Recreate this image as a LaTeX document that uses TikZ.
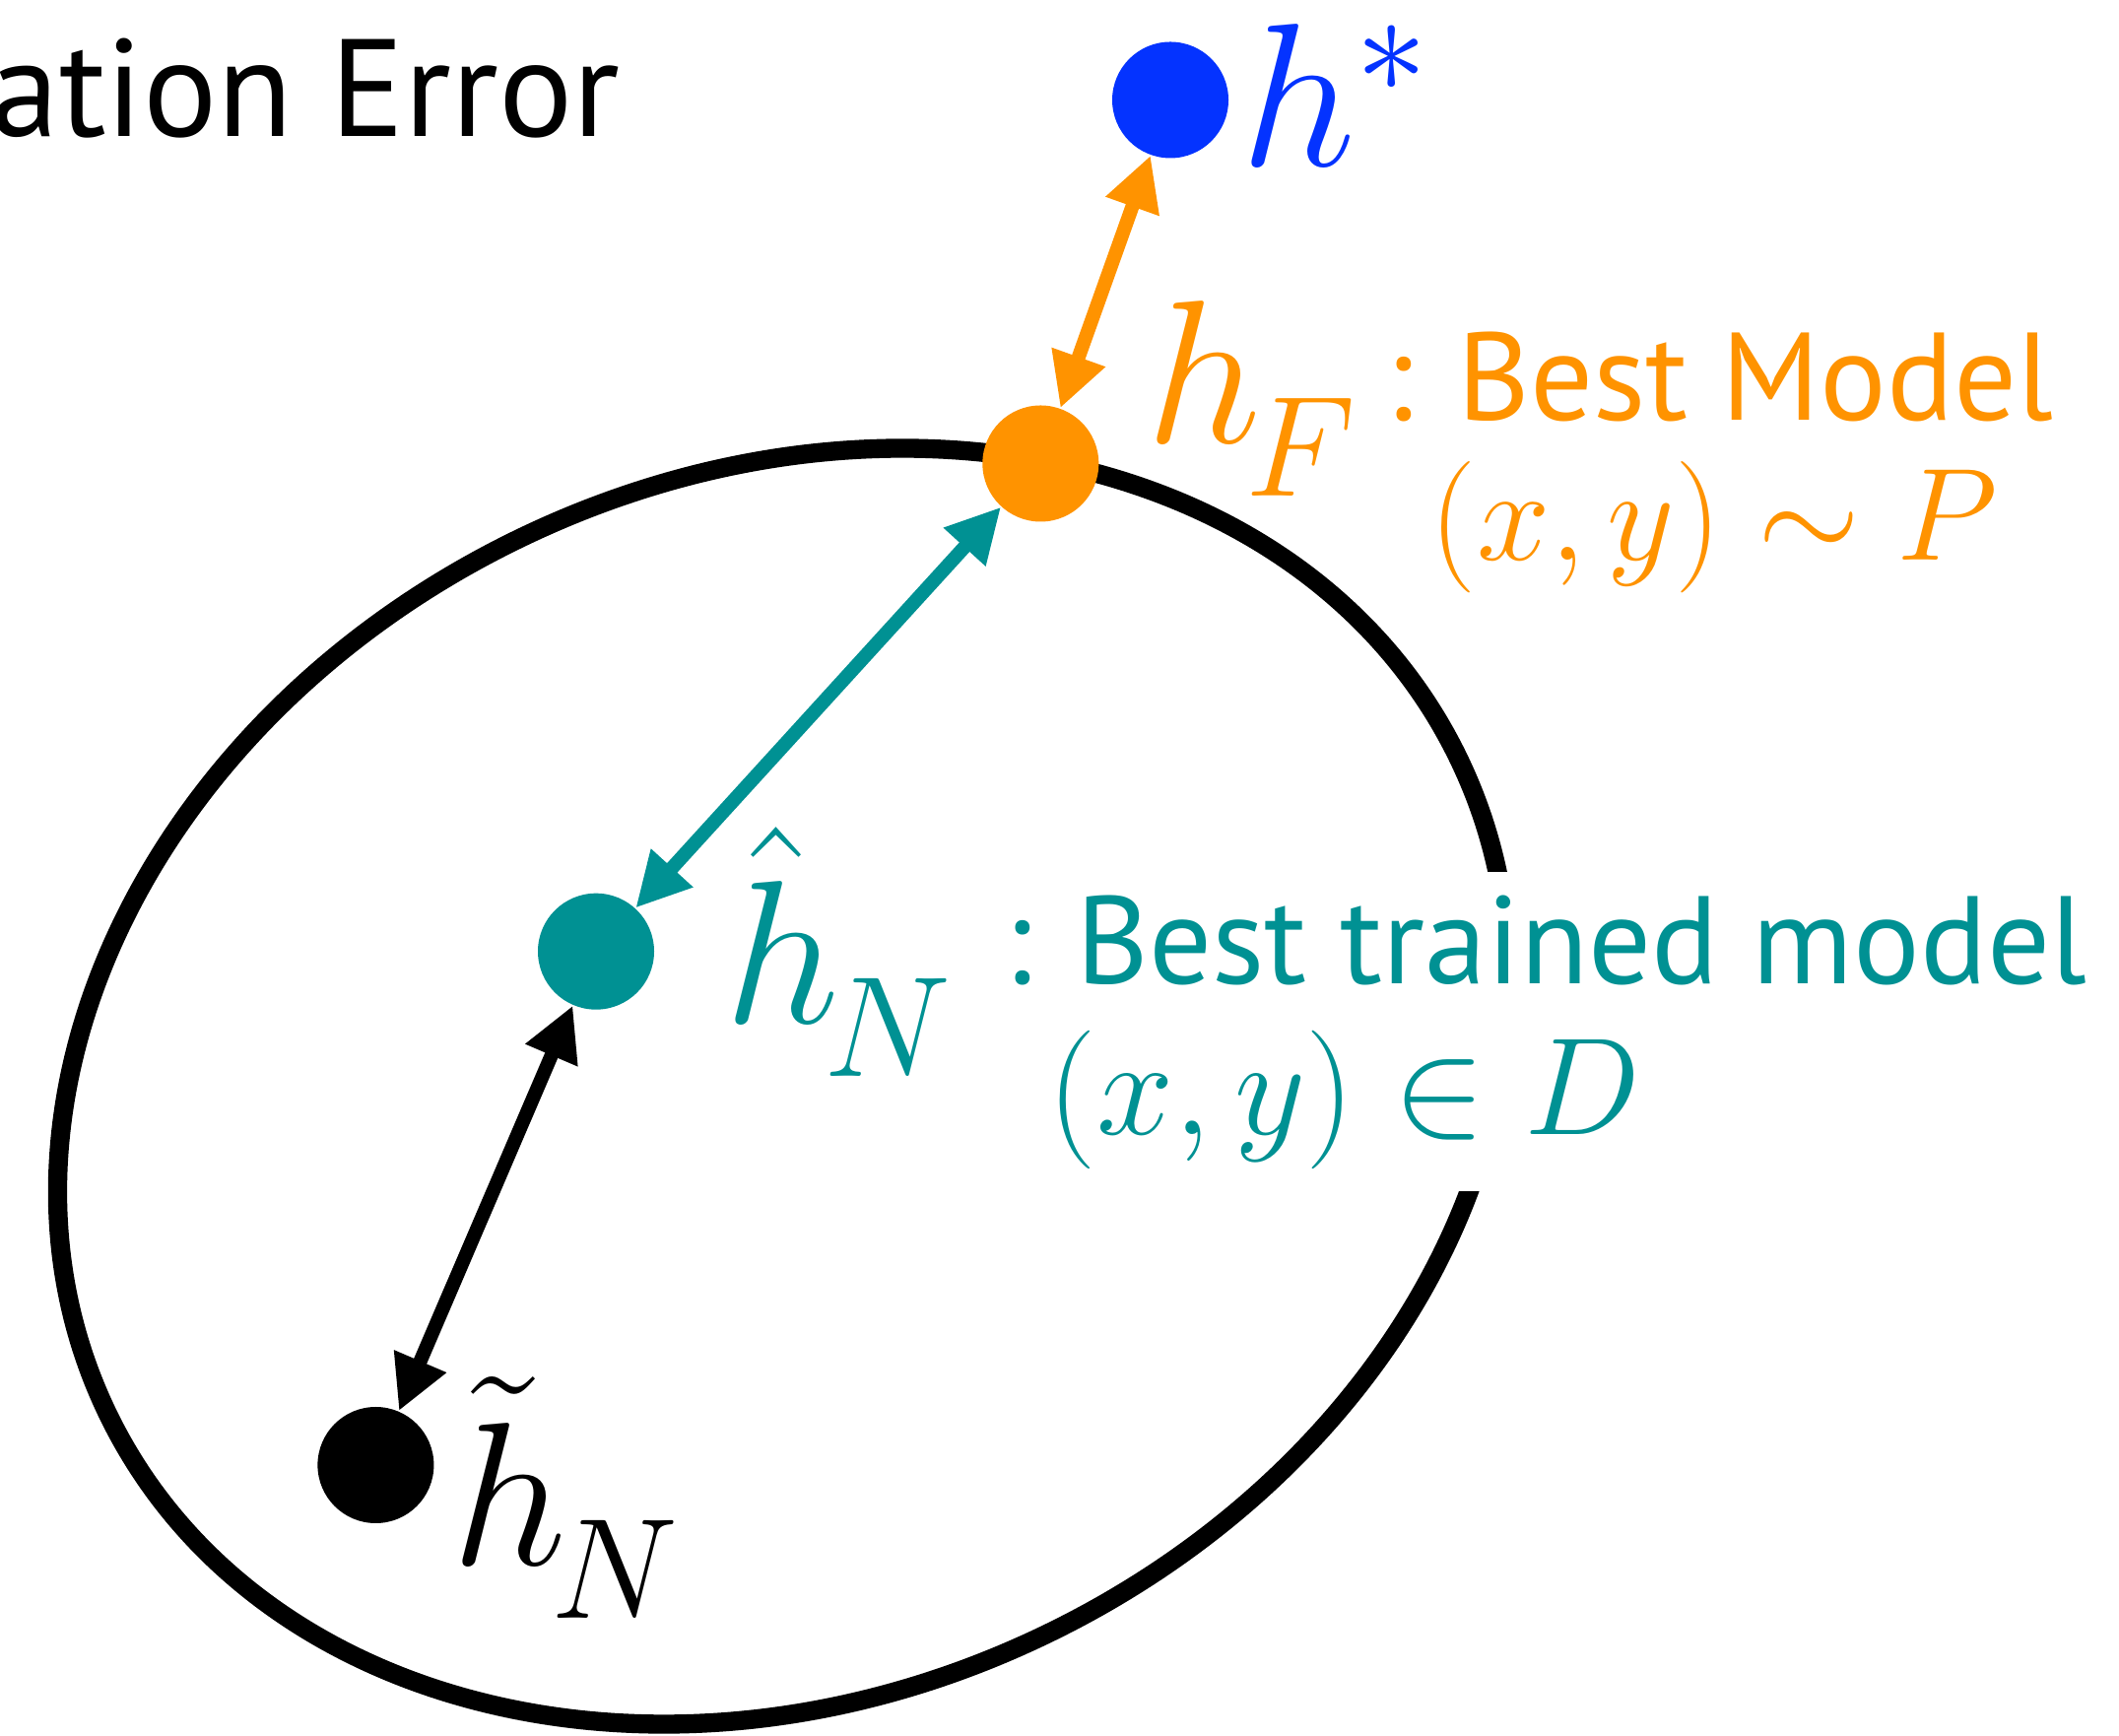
\RequirePackage{fix-cm}
\documentclass[tikz,border=0pt]{standalone}
\usepackage{fontspec}
\setsansfont{PT Sans}
\usepackage{amsmath,amssymb}
\usepackage{xcolor}
\usepackage{tikz}
\usetikzlibrary{arrows.meta,positioning}

\definecolor{hstar}{RGB}{4,51,255}
\definecolor{hbest}{RGB}{255,147,0}
\definecolor{htrain}{RGB}{0,145,147}

\newcommand{\lowsub}[1]{_{\raisebox{-0.11em}{\kern-0.08em$\scriptstyle #1$}}}

\tikzset{
  pt/.style={circle,minimum size=1.18cm,inner sep=0pt},
  sym/.style={inner sep=0pt,font=\fontsize{59}{60}\selectfont},
  desc/.style={inner sep=0pt,font=\sffamily\fontsize{36}{40}\selectfont},
  data/.style={inner sep=0pt,font=\fontsize{40}{44}\selectfont},
  gap/.style={<->,>={Triangle[length=5.5mm,width=5.4mm]},line width=4pt},
}

\begin{document}
\begin{tikzpicture}
  \useasboundingbox (0,0) rectangle (21.51,17.61);
  % hypothesis class
  \draw[line width=5.5pt,rotate around={26:(7.95,6.585)}] (7.95,6.585) ellipse (7.62 and 6.17);
  \node[inner sep=0pt,font=\sffamily\fontsize{40}{44}\selectfont,anchor=base east] (err) at (6.30,16.224) {ation Error};

  % points
  \node[pt,fill=hstar] (hs) at (11.88,16.595) {};
  \node[pt,fill=hbest] (hf) at (10.563,12.905) {};
  \node[pt,fill=htrain] (hn) at (6.05,7.953) {};
  \node[pt,fill=black] (ht) at (3.814,2.74) {};

  % labels
  \node[sym,text=hstar,anchor=base west] (hslab) at (12.59,15.92) {$h^*$};
  \node[sym,text=hbest,anchor=base west] (hflab) at (11.63,13.11) {$h\lowsub{F}$};
  \node[desc,text=hbest,anchor=base west] (hfdesc) at (14.06,13.344) {: Best Model};
  \node[data,text=hbest,font=\fontsize{38}{42}\selectfont,anchor=base west] (hfdata) at (14.51,11.92) {$(x,y)\sim P$};
  \node[sym,text=htrain,anchor=base west] (hnlab) at (7.35,7.225) {$\hat{h}\lowsub{N}$};
  \node[desc,text=htrain,fill=white,anchor=base west,inner xsep=2pt,
        text height=1.14cm,text depth=0.3cm] (hndesc) at (10.12,7.623) {: Best trained model};
  \node[data,text=htrain,fill=white,anchor=base west,inner xsep=2pt,
        text height=1.31cm,text depth=0.57cm] (hndata) at (10.56,6.09) {$(x,y)\in D$};
  \node[sym,anchor=base west] (htlab) at (4.58,1.725) {$\tilde{h}\lowsub{N}$};

  % distances
  \draw[gap,hbest] (hs) -- (hf);
  \draw[gap,htrain] (hf) -- (hn);
  \draw[gap] (hn) -- (ht);
\end{tikzpicture}
\end{document}
